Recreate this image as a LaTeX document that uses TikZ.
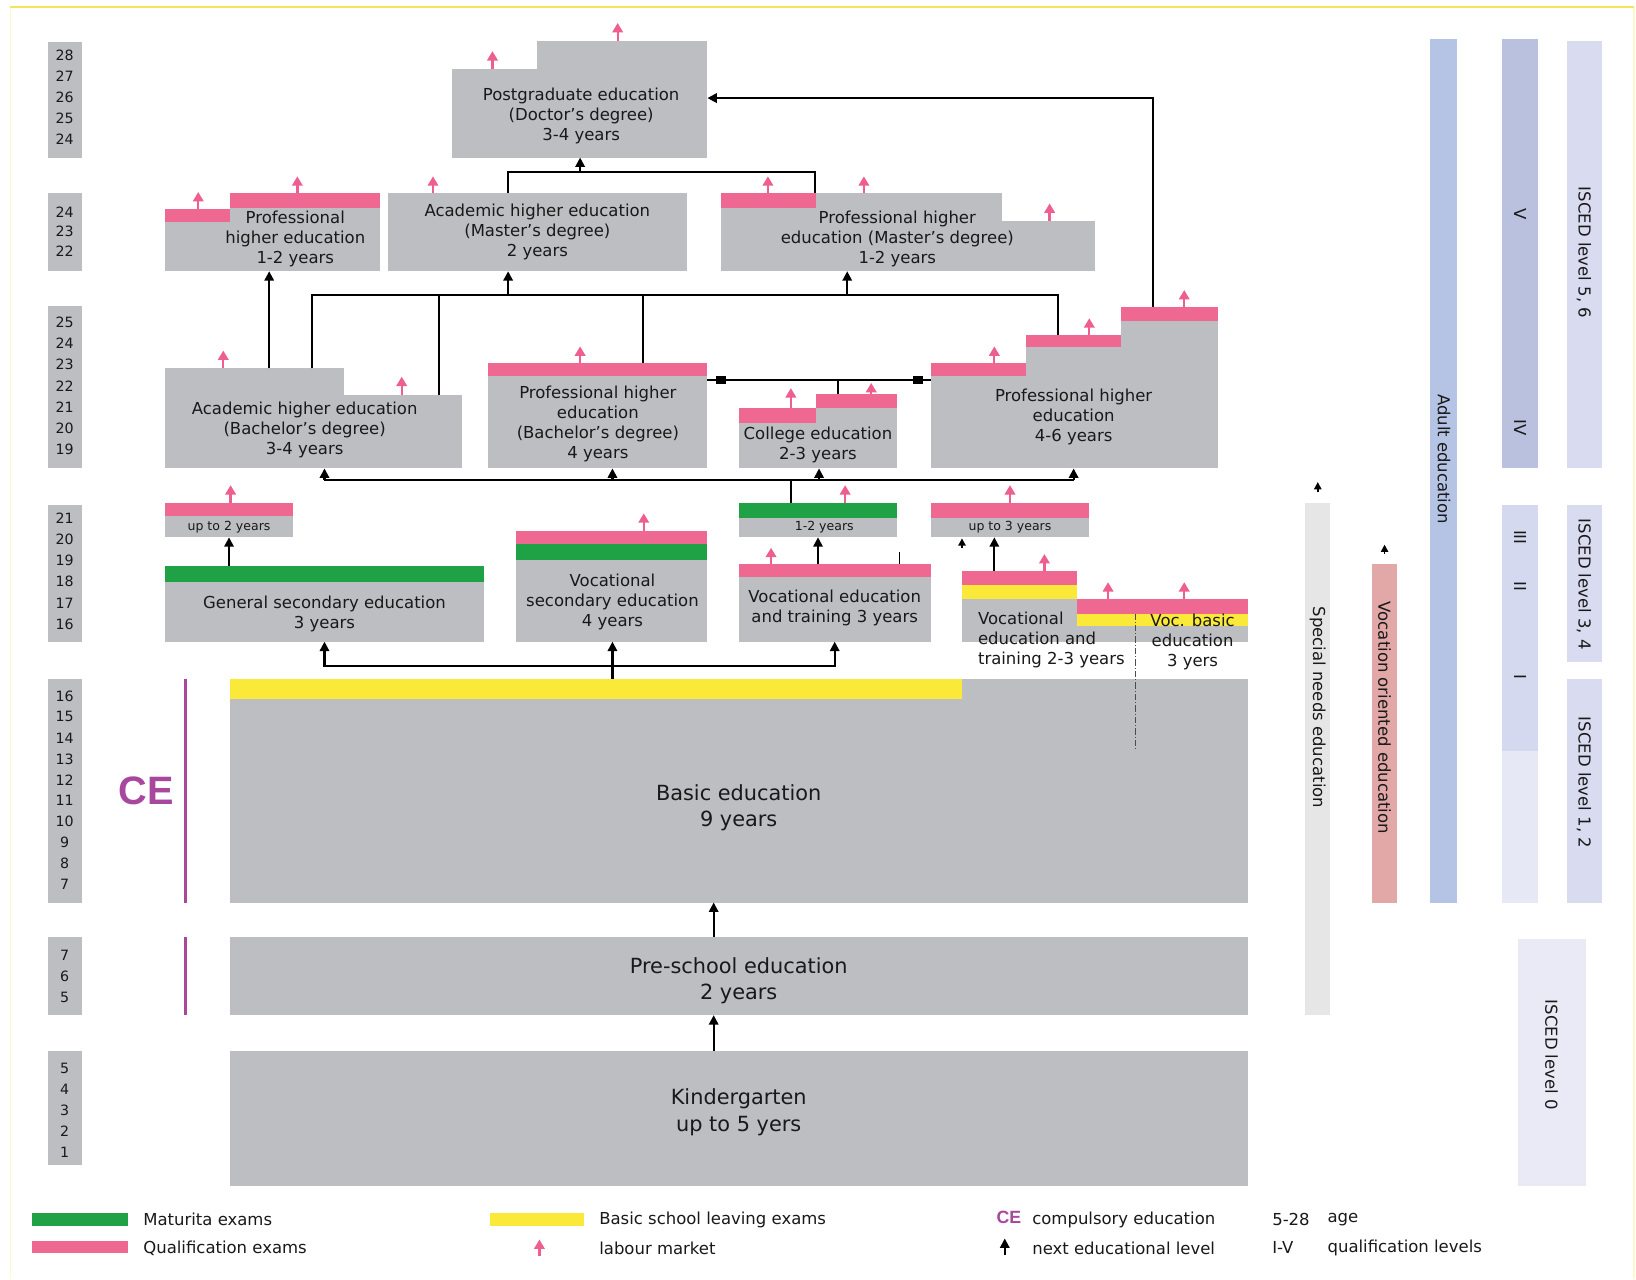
\documentclass[tikz,border=0pt]{standalone}
\usepackage{fontspec}
\setmainfont{DejaVu Sans}
\newfontfamily\cefont{Liberation Sans}
\usetikzlibrary{arrows.meta,fit}
\definecolor{boxgray}{HTML}{BDBEC2}
\definecolor{qpink}{HTML}{EF6891}
\definecolor{mgreen}{HTML}{1EA245}
\definecolor{byellow}{HTML}{FBE93A}
\definecolor{lmpink}{HTML}{EE5E90}
\definecolor{cepurple}{HTML}{A8479E}
\definecolor{adultblue}{HTML}{B5C3E5}
\definecolor{qlevtop}{HTML}{B9C1DF}
\definecolor{qlevmid}{HTML}{D5D9EF}
\definecolor{qlevbot}{HTML}{E6E8F5}
\definecolor{iscedc}{HTML}{D9DBF0}
\definecolor{isced0}{HTML}{E9EAF6}
\definecolor{sngray}{HTML}{E6E6E6}
\definecolor{vorose}{HTML}{E2A8A8}
\definecolor{frameyel}{HTML}{F2E75C}
\definecolor{framefaint}{HTML}{FFF9CC}
\newcommand\rbox[6]{\node[#1, fit={(#3,#4) (#5,#6)}] (#2) {};}
\newcommand\lmarr[4]{\coordinate (#1a) at (#2,#3); \coordinate (#1b) at (#2,#3-#4); \draw[lmarrow] (#1a) -- (#1b);}
\tikzset{
  rectbase/.style={draw=none, inner sep=0pt, outer sep=0pt},
  gbox/.style={rectbase, fill=boxgray},
  pstrip/.style={rectbase, fill=qpink},
  gstrip/.style={rectbase, fill=mgreen},
  ystrip/.style={rectbase, fill=byellow},
  snbar/.style={rectbase, fill=sngray},
  vobar/.style={rectbase, fill=vorose},
  adbar/.style={rectbase, fill=adultblue},
  qtop/.style={rectbase, fill=qlevtop},
  qmid/.style={rectbase, fill=qlevmid},
  qbot/.style={rectbase, fill=qlevbot},
  iscbar/.style={rectbase, fill=iscedc},
  isc0bar/.style={rectbase, fill=isced0},
  txt/.style={font=\fontsize{7.9}{9.6}\selectfont, align=center, inner sep=0pt, text=black!90},
  bigtxt/.style={font=\fontsize{10}{12.6}\selectfont, align=center, inner sep=0pt, text=black!90},
  tinytxt/.style={font=\fontsize{6}{7}\selectfont, align=center, inner sep=0pt, text=black!90},
  agetxt/.style={font=\fontsize{6.8}{8}\selectfont, inner sep=0pt, text=black!90},
  rottxt/.style={txt, rotate=-90},
  legtxt/.style={txt, anchor=west},
  conn/.style={line width=1pt, black},
  nxt/.style={line width=1pt, black, -{Triangle[width=4.5pt,length=4.5pt]}},
  smalltip/.style={line width=0.8pt, black, -{Triangle[width=3.5pt,length=3.5pt]}},
  lmarrow/.style={line width=1.1pt, lmpink, -{Triangle[width=5pt,length=4.5pt]}},
  celine/.style={line width=1.6pt, cepurple},
  sepline/.style={line width=0.5pt, black!70, dash pattern=on 3pt off 1pt on 0.5pt off 1pt}
}
\begin{document}
\begin{tikzpicture}[x=0.5pt,y=-0.5pt]
\useasboundingbox (0,0) rectangle (1568,1226);
\fill[white] (0,0) rectangle (1568,1226);
% frame
\draw[framefaint, line width=0.8pt] (10,1226) -- (10,7);
\draw[framefaint, line width=0.8pt] (1566,7) -- (1566,1226);
\draw[frameyel, line width=1pt] (10,7) -- (1566,7);

% ---------- age column ----------
\rbox{gbox}{ageA}{46}{40}{79}{151}
\foreach \n [count=\i] in {28,27,26,25,24} \node[agetxt] (ageA\i) at (62,{53+(\i-1)*20}) {\n};
\rbox{gbox}{ageB}{46}{185}{79}{260}
\foreach \n [count=\i] in {24,23,22} \node[agetxt] (ageB\i) at (62,{203+(\i-1)*19}) {\n};
\rbox{gbox}{ageC}{46}{293}{79}{449}
\foreach \n [count=\i] in {25,24,23,22,21,20,19} \node[agetxt] (ageC\i) at (62,{309+(\i-1)*20.3}) {\n};
\rbox{gbox}{ageD}{46}{484}{79}{615}
\foreach \n [count=\i] in {21,20,19,18,17,16} \node[agetxt] (ageD\i) at (62,{497+(\i-1)*20.2}) {\n};
\rbox{gbox}{ageE}{46}{651}{79}{865}
\foreach \n [count=\i] in {16,15,14,13,12,11,10,9,8,7} \node[agetxt] (ageE\i) at (62,{667+(\i-1)*20.1}) {\n};
\rbox{gbox}{ageF}{46}{898}{79}{973}
\foreach \n [count=\i] in {7,6,5} \node[agetxt] (ageF\i) at (62,{916+(\i-1)*20}) {\n};
\rbox{gbox}{ageG}{46}{1007}{79}{1117}
\foreach \n [count=\i] in {5,4,3,2,1} \node[agetxt] (ageG\i) at (62,{1024+(\i-1)*20}) {\n};

% ---------- CE ----------
\node[font=\fontsize{19}{19}\cefont\bfseries, text=cepurple, inner sep=0pt] (ce) at (140,758) {CE};
\draw[celine] (178,651) -- (178,865);
\draw[celine] (178,898) -- (178,973);

% ---------- lower blocks ----------
\rbox{gbox}{kg}{220}{1007}{1196}{1137}
\node[bigtxt] (kgt) at (708,1066) {Kindergarten\\up to 5 yers};
\rbox{gbox}{ps}{220}{898}{1196}{973}
\node[bigtxt] (pst) at (708,940) {Pre-school education\\2 years};
\rbox{gbox}{be}{220}{651}{1196}{865}
\rbox{ystrip}{bey}{220}{651}{922}{670}
\node[bigtxt] (bet) at (708,774) {Basic education\\9 years};
\coordinate (x684) at (684,0);
\draw[nxt] (kg.north -| x684) -- (ps.south -| x684);
\draw[nxt] (ps.north -| x684) -- (be.south -| x684);

% ---------- secondary ----------
\rbox{gbox}{gse}{158}{542}{464}{615}
\rbox{gstrip}{gseg}{158}{542}{464}{558}
\node[txt] (gset) at (311,588) {General secondary education\\3 years};
\rbox{gbox}{up2}{158}{482}{281}{515}
\rbox{pstrip}{up2p}{158}{482}{281}{495}
\node[tinytxt] (up2t) at (219.5,505.5) {up to 2 years};
\rbox{gbox}{vse}{495}{509}{678}{615}
\rbox{pstrip}{vsep}{495}{509}{678}{521}
\rbox{gstrip}{vseg}{495}{521}{678}{537}
\node[txt] (vset) at (587,577) {Vocational\\secondary education\\4 years};
\rbox{gbox}{vet3}{708}{541}{892}{615}
\rbox{pstrip}{vet3p}{708}{541}{892}{553}
\node[txt] (vet3t) at (800,583) {Vocational education\\and training 3 years};
\rbox{gbox}{yr12}{708}{482}{860}{515}
\rbox{gstrip}{yr12g}{708}{482}{860}{496}
\node[tinytxt] (yr12t) at (790,505.5) {1-2 years};
\rbox{gbox}{up3}{892}{482}{1044}{515}
\rbox{pstrip}{up3p}{892}{482}{1044}{496}
\node[tinytxt] (up3t) at (968,505.5) {up to 3 years};
\rbox{gbox}{vetL}{922}{547}{1032}{615}
\rbox{pstrip}{vetLp}{922}{547}{1032}{561}
\rbox{ystrip}{vetLy}{922}{561}{1032}{574}
\rbox{gbox}{vetR}{1032}{574}{1196}{615}
\rbox{pstrip}{vetRp}{1032}{574}{1196}{588}
\rbox{ystrip}{vetRy}{1032}{588}{1196}{600}
\node[txt, align=left, anchor=west] (vet23t) at (937,613) {Vocational\\education and\\training 2-3 years};
\node[txt] (vbt) at (1143,615) {Voc. basic\\education\\3 yers};
\draw[sepline] (1088,588) -- (1088,720);

\coordinate (jb) at (587,638);
\draw[conn] (be.north -| jb) -- (jb);
\draw[nxt] (jb) -- (vse.south -| jb);
\draw[nxt] (jb) -| (gse.south);
\draw[nxt] (jb) -| (vet3.south);
\draw[nxt] (gse.north -| up2.south) -- (up2.south);
\draw[nxt] (vet3.north -| yr12.south) -- (yr12.south);
\coordinate (x953) at (953,0);
\draw[nxt] (vetL.north -| x953) -- (up3.south -| x953);
\coordinate (oa1) at (922,525);
\coordinate (oa2) at (922,516);
\draw[smalltip] (oa1) -- (oa2);
\coordinate (tk) at (862,529);
\draw[line width=0.8pt] (tk) -- (vet3.north -| tk);

% ---------- bachelor row ----------
\rbox{gbox}{acbL}{158}{353}{330}{449}
\rbox{gbox}{acbR}{330}{379}{443}{449}
\node[txt] (acbt) at (292,412) {Academic higher education\\(Bachelor's degree)\\3-4 years};
\rbox{gbox}{pbb}{468}{348}{678}{449}
\rbox{pstrip}{pbbp}{468}{348}{678}{360}
\node[txt] (pbbt) at (573,406) {Professional higher\\education\\(Bachelor's degree)\\4 years};
\rbox{gbox}{colL}{708}{391}{782}{449}
\rbox{gbox}{colR}{782}{378}{860}{449}
\rbox{pstrip}{colLp}{708}{391}{782}{405}
\rbox{pstrip}{colRp}{782}{378}{860}{391}
\node[txt] (colt) at (784,426) {College education\\2-3 years};
\rbox{gbox}{ph1}{892}{348}{983}{449}
\rbox{gbox}{ph2}{983}{321}{1074}{449}
\rbox{gbox}{ph3}{1074}{294}{1167}{449}
\rbox{pstrip}{ph1p}{892}{348}{983}{360}
\rbox{pstrip}{ph2p}{983}{321}{1074}{333}
\rbox{pstrip}{ph3p}{1074}{294}{1167}{308}
\node[txt] (pht) at (1029,400) {Professional higher\\education\\4-6 years};

\coordinate (j460) at (758,460);
\draw[conn] (yr12.north -| j460) -- (j460);
\coordinate (h460L) at (311,460);
\coordinate (h460R) at (1029,460);
\draw[conn] (h460L) -- (h460R);
\draw[nxt] (h460L) -- (acbL.south -| h460L);
\coordinate (h460b) at (587,460);
\draw[nxt] (h460b) -- (pbb.south -| h460b);
\coordinate (h460c) at (785,460);
\draw[nxt] (h460c) -- (colR.south -| h460c);
\draw[nxt] (h460R) -- (ph2.south -| h460R);

\coordinate (y364) at (0,364);
\draw[conn] (pbb.east |- y364) -- (ph1.west |- y364);
\fill[black] (686,360) rectangle (696,368);
\fill[black] (875,360) rectangle (885,368);
\coordinate (j364) at (803,364);
\draw[conn] (j364) -- (colR.north -| j364);

% ---------- master row ----------
\rbox{gbox}{phlL}{158}{200}{220}{260}
\rbox{gbox}{phlR}{220}{185}{364}{260}
\rbox{pstrip}{phlLp}{158}{200}{220}{213}
\rbox{pstrip}{phlRp}{220}{185}{364}{199}
\node[txt] (phlt) at (283,229) {Professional\\higher education\\1-2 years};
\rbox{gbox}{ahm}{372}{185}{658}{260}
\node[txt] (ahmt) at (515,222) {Academic higher education\\(Master's degree)\\2 years};
\rbox{gbox}{phmL}{691}{185}{960}{260}
\rbox{gbox}{phmR}{960}{212}{1049}{260}
\rbox{pstrip}{phmp}{691}{185}{782}{199}
\node[txt] (phmt) at (860,229) {Professional higher\\education (Master's degree)\\1-2 years};

\coordinate (x258) at (258,0);
\draw[nxt] (acbL.north -| x258) -- (phlR.south -| x258);
\coordinate (h283L) at (299,283);
\coordinate (h283R) at (1014,283);
\draw[conn] (acbL.north -| h283L) -- (h283L) -- (h283R) -- (ph2.north -| h283R);
\coordinate (h283a) at (421,283);
\draw[conn] (h283a) -- (acbR.north -| h283a);
\coordinate (h283b) at (616,283);
\draw[conn] (h283b) -- (pbb.north -| h283b);
\coordinate (h283c) at (487,283);
\draw[nxt] (h283c) -- (ahm.south -| h283c);
\coordinate (h283d) at (812,283);
\draw[nxt] (h283d) -- (phmL.south -| h283d);

% ---------- doctor ----------
\rbox{gbox}{docL}{433}{66}{515}{151}
\rbox{gbox}{docR}{515}{39}{678}{151}
\node[txt] (doct) at (557,111) {Postgraduate education\\(Doctor's degree)\\3-4 years};
\coordinate (h165L) at (487,165);
\coordinate (h165R) at (781,165);
\draw[conn] (ahm.north -| h165L) -- (h165L) -- (h165R) -- (phmL.north -| h165R);
\coordinate (h165m) at (556,165);
\draw[nxt] (h165m) -- (docR.south -| h165m);
\coordinate (c94) at (1105,94);
\draw[nxt] (ph3.north -| c94) -- (c94) -- (docR.east |- c94);

% ---------- labour market arrows ----------
\lmarr{lmA}{472}{66}{17}
\lmarr{lmB}{592}{39}{17}
\lmarr{lmC}{190}{200}{16}
\lmarr{lmD}{285}{185}{16}
\lmarr{lmE}{415}{185}{16}
\lmarr{lmF}{736}{185}{16}
\lmarr{lmG}{828}{185}{16}
\lmarr{lmH}{1006}{212}{17}
\lmarr{lmI}{214}{353}{17}
\lmarr{lmJ}{385}{379}{18}
\lmarr{lmK}{556}{348}{16}
\lmarr{lmL}{758}{391}{19}
\lmarr{lmM}{835}{378}{11}
\lmarr{lmN}{953}{348}{16}
\lmarr{lmO}{1044}{321}{16}
\lmarr{lmP}{1135}{294}{16}
\lmarr{lmQ}{221}{482}{17}
\lmarr{lmR}{810}{482}{17}
\lmarr{lmS}{968}{482}{17}
\lmarr{lmT}{617}{509}{17}
\lmarr{lmU}{739}{541}{16}
\lmarr{lmV}{1001}{547}{16}
\lmarr{lmW}{1062}{574}{16}
\lmarr{lmX}{1135}{574}{16}

% ---------- right columns ----------
\rbox{snbar}{snb}{1251}{482}{1275}{973}
\node[rottxt] (snt) at (1263,678) {Special needs education};
\coordinate (sna1) at (1263,472);
\coordinate (sna2) at (1263,462);
\draw[smalltip] (sna1) -- (sna2);
\rbox{vobar}{vob}{1315}{541}{1339}{865}
\node[rottxt] (vot) at (1327,688) {Vocation oriented education};
\coordinate (voa1) at (1327,531);
\coordinate (voa2) at (1327,522);
\draw[smalltip] (voa1) -- (voa2);
\rbox{adbar}{adb}{1371}{37}{1396}{865}
\node[rottxt] (adt) at (1384,440) {Adult education};

\rbox{qtop}{q1}{1440}{37}{1474}{449}
\rbox{qbot}{q2}{1440}{484}{1474}{865}
\rbox{qmid}{q2a}{1440}{484}{1474}{720}
\node[rottxt] (qV) at (1457,205) {V};
\node[rottxt] (qIV) at (1457,410) {IV};
\node[rottxt] (qIII) at (1457,515) {III};
\node[rottxt] (qII) at (1457,562) {II};
\node[rottxt] (qI) at (1457,649) {I};

\rbox{iscbar}{is1}{1502}{39}{1535}{449}
\rbox{iscbar}{is2}{1502}{484}{1535}{634}
\rbox{iscbar}{is3}{1502}{651}{1535}{865}
\rbox{isc0bar}{is0}{1455}{900}{1520}{1137}
\node[rottxt] (is1t) at (1518,242) {ISCED level 5, 6};
\node[rottxt] (is2t) at (1518,560) {ISCED level 3, 4};
\node[rottxt] (is3t) at (1518,750) {ISCED level 1, 2};
\node[rottxt] (is0t) at (1487,1011) {ISCED level 0};

% ---------- legend ----------
\rbox{gstrip}{lg1}{31}{1163}{123}{1175}
\node[legtxt] (lg1t) at (137,1169) {Maturita exams};
\rbox{pstrip}{lg2}{31}{1189}{123}{1201}
\node[legtxt] (lg2t) at (137,1196) {Qualification exams};
\rbox{ystrip}{lg3}{470}{1163}{560}{1175}
\node[legtxt] (lg3t) at (574,1169) {Basic school leaving exams};
\lmarr{lg4}{517}{1204}{16}
\node[legtxt] (lg4t) at (574,1196) {labour market};
\node[font=\fontsize{8.5}{9}\cefont\bfseries, text=cepurple, inner sep=0pt] (lg5) at (967,1167) {CE};
\node[legtxt] (lg5t) at (989,1169) {compulsory education};
\coordinate (lg6a) at (963,1203);
\coordinate (lg6b) at (963,1187);
\draw[nxt] (lg6a) -- (lg6b);
\node[legtxt] (lg6t) at (989,1196) {next educational level};
\node[legtxt] (lg7) at (1219,1169) {5-28};
\node[legtxt] (lg7t) at (1272,1169) {age};
\node[legtxt] (lg8) at (1219,1196) {I-V};
\node[legtxt] (lg8t) at (1272,1196) {qualification levels};
\end{tikzpicture}
\end{document}
